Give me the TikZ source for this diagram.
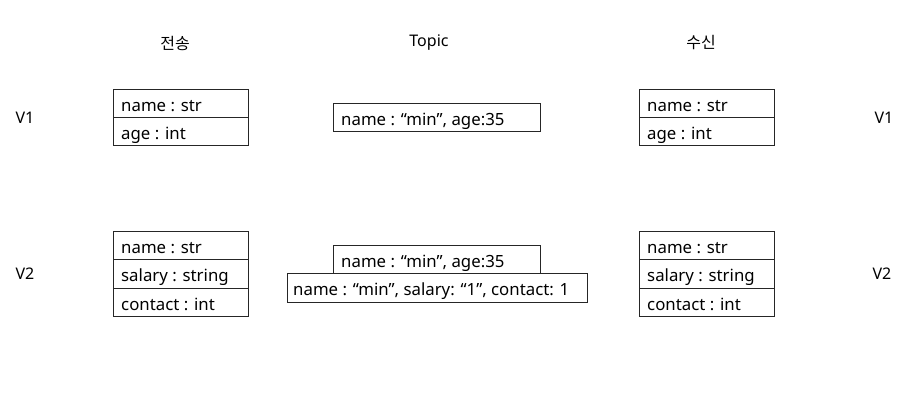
\documentclass[tikz,border=0pt]{standalone}
\usepackage{fontspec}
\setmainfont{Noto Sans}
\newfontfamily\kofont{Noto Sans CJK KR}
\usetikzlibrary{calc}

\begin{document}
\begin{tikzpicture}[x=1pt, y=-1pt,
		field/.style={anchor=base west, inner sep=0pt, font=\fontsize{16.8}{20}\selectfont},
		title/.style={inner sep=0pt, font=\fontsize{16}{19}\selectfont},
		box/.style={line width=0.8pt, draw=black!85}]
		%%%%% START %%%%%
		\useasboundingbox (0, 0) rectangle (917, 404);
		
		\node[title] (sendtitle) at (175, 43) {\kofont 전송};
		\node[title] (topictitle) at (429, 43) {Topic};
		\node[title] (recvtitle) at (701, 43) {\kofont 수신};
		
		\node[title] (vone) at (25, 118) {V1};
		\node[title] (vonerecv) at (884, 118) {V1};
		\node[title] (vtwo) at (25, 274) {V2};
		\node[title] (vtworecv) at (882, 274) {V2};
		
		% V1 send / receive
		\foreach \x/\n in {113/send, 639/recv} {
			\draw[box] (\x, 89) rectangle (\x+135, 145);
			\draw[box] (\x, 117) -- (\x+135, 117);
			\node[field] (\n onename) at (\x+8, 111.5) {name : str};
			\node[field] (\n oneage) at (\x+8, 139.5) {age : int};
		}
		
		% V1 topic
		\draw[box] (333, 103) rectangle (540, 131);
		\node[field] (topicone) at (341, 125.5) {name : “min”, age:35};
		
		% V2 send / receive
		\foreach \x/\n in {113/send, 639/recv} {
			\draw[box] (\x, 231) rectangle (\x+135, 316);
			\draw[box] (\x, 259) -- (\x+135, 259);
			\draw[box] (\x, 288) -- (\x+135, 288);
			\node[field] (\n twoname) at (\x+8, 253.5) {name : str};
			\node[field] (\n twosalary) at (\x+8, 281.5) {salary : string};
			\node[field] (\n twocontact) at (\x+8, 310) {contact : int};
		}
		
		% V2 topic
		\draw[box] (333, 245) rectangle (540, 273.5);
		\node[field] (topictwoold) at (341, 267) {name : “min”, age:35};
		\draw[box] (287, 273.5) rectangle (587, 302);
		\node[field] (topictwonew) at (293, 295.5) {name : “min”, salary: “1”, contact: 1};
		
		%%%%% END %%%%%
	\end{tikzpicture}
\end{document}
